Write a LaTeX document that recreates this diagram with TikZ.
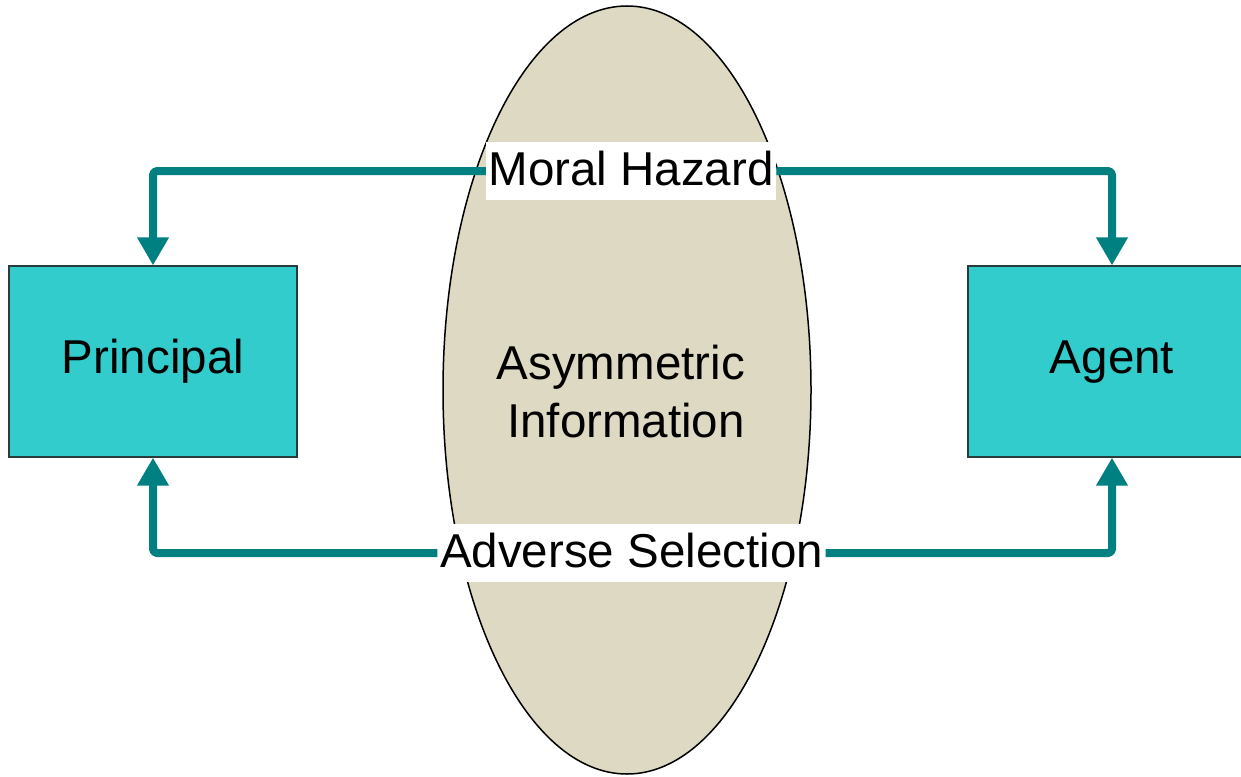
\documentclass[tikz,border=0pt]{standalone}
\usepackage{fontspec}
\setmainfont{Liberation Sans}
\usetikzlibrary{arrows.meta,shapes.geometric}
\definecolor{boxfill}{RGB}{51,204,204}
\definecolor{teal}{RGB}{0,128,128}
\definecolor{ellfill}{RGB}{221,217,195}
\definecolor{boxline}{RGB}{40,60,60}
\tikzset{
  party/.style={draw=boxline, line width=1.2pt, fill=boxfill, minimum width=288pt, minimum height=191pt, inner sep=0pt, text height=34pt, text depth=10pt, font=\fontsize{47.5}{56}\selectfont},
  flow/.style={draw=teal, line width=8pt, rounded corners=4pt, line join=round, -{Triangle[width=30pt,length=28pt]}},
  lab/.style={fill=white, inner xsep=2.5pt, inner ysep=4pt, text height=39pt, text depth=11pt, font=\fontsize{47.5}{56}\selectfont}
}
\begin{document}
\begin{tikzpicture}[x=1pt,y=-1pt]
\clip (0,0) rectangle (1241,776);
\fill[white] (0,0) rectangle (1241,776);
\node[ellipse, draw=black, line width=1.5pt, fill=ellfill, minimum width=368pt, minimum height=768pt, inner sep=0pt] (ell) at (627,390) {};
\node[anchor=east, align=right, inner sep=0pt, font=\fontsize{47.5}{58}\selectfont] (asym) at (745,392) {Asymmetric\\Information};
\node[party] (principal) at (153,361.5) {Principal};
\node[party] (agent) at (1112,361.5) {Agent};
\node[lab] (mh) at (631,171) {Moral Hazard};
\node[lab] (as) at (631.5,553) {Adverse Selection};
\draw[flow] (mh.west) -| (principal.north);
\draw[flow] (mh.east) -| (agent.north);
\draw[flow] (as.west) -| (principal.south);
\draw[flow] (as.east) -| (agent.south);
\end{tikzpicture}
\end{document}
